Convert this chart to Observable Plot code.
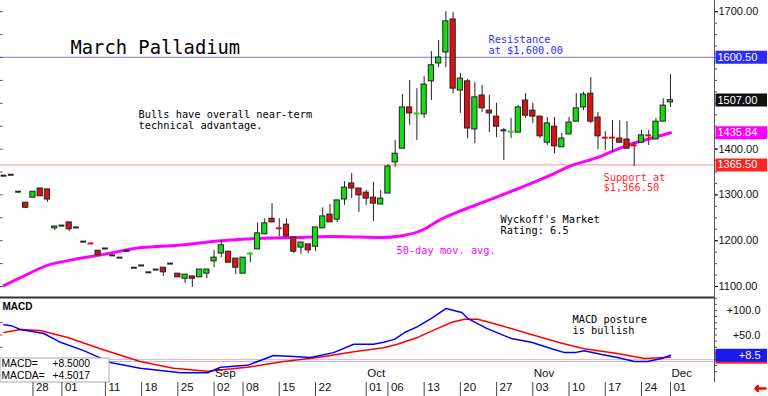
<!DOCTYPE html>
<html><head><meta charset="utf-8">
<script src="https://cdn.jsdelivr.net/npm/d3@7"></script>
<script src="https://cdn.jsdelivr.net/npm/@observablehq/plot@0.6"></script>
<style>
body{margin:0;background:#fff;}
#wrap{position:relative;width:768px;height:396px;overflow:hidden;background:#fff;}
#top{position:absolute;left:0;top:0;}
#bot{position:absolute;left:0;top:296px;}
g[aria-label="axlab"] text{letter-spacing:1.4px;}
g[aria-label="boxnum"] text{letter-spacing:1.6px;}
</style></head><body><div id="wrap"><div id="top"></div><div id="bot"></div></div>
<script>
// ---------- data ----------
const dates = [
"2025-07-22","2025-07-23","2025-07-24","2025-07-25","2025-07-28","2025-07-29","2025-07-30","2025-07-31",
"2025-08-01","2025-08-04","2025-08-05","2025-08-06","2025-08-07","2025-08-08","2025-08-11","2025-08-12",
"2025-08-13","2025-08-14","2025-08-15","2025-08-18","2025-08-19","2025-08-20","2025-08-21","2025-08-22",
"2025-08-25","2025-08-26","2025-08-27","2025-08-28","2025-08-29","2025-09-02","2025-09-03","2025-09-04",
"2025-09-05","2025-09-08","2025-09-09","2025-09-10","2025-09-11","2025-09-12","2025-09-15","2025-09-16",
"2025-09-17","2025-09-18","2025-09-19","2025-09-22","2025-09-23","2025-09-24","2025-09-25","2025-09-26",
"2025-09-29","2025-09-30","2025-10-01","2025-10-02","2025-10-03","2025-10-06","2025-10-07","2025-10-08",
"2025-10-09","2025-10-10","2025-10-13","2025-10-14","2025-10-15","2025-10-16","2025-10-17","2025-10-20",
"2025-10-21","2025-10-22","2025-10-23","2025-10-24","2025-10-27","2025-10-28","2025-10-29","2025-10-30",
"2025-10-31","2025-11-03","2025-11-04","2025-11-05","2025-11-06","2025-11-07","2025-11-10","2025-11-11",
"2025-11-12","2025-11-13","2025-11-14","2025-11-17","2025-11-18","2025-11-19","2025-11-20","2025-11-21",
"2025-11-24","2025-11-25","2025-11-26","2025-11-28","2025-12-01"];
const open = [1342,1344,1307,1283,1294,1314,1312,1227,1233,1240,1229,1198,1195,1178,1183,1168,1163,1178,1141,1146,
1131,1137,1141,1150,1128,1117,1122,1120,1128,1155,1172,1176,1161,1128,1171,1181,1214,1248,1228,1235,
1207,1185,1192,1187,1227,1257,1246,1290,1325,1314,1305,1294,1279,1303,1371,1401,1491,1477,1476,1548,
1587,1611,1683,1528,1548,1443,1517,1484,1471,1441,1437,1436,1506,1484,1471,1414,1449,1404,1432,1460,
1491,1521,1469,1426,1426,1423,1421,1409,1414,1431,1421,1460,1502];
const high = [1342,1344,1307,1283,1307,1314,1312,1231,1233,1240,1229,1198,1195,1178,1183,1168,1163,1178,1141,1146,
1131,1137,1141,1150,1128,1126,1122,1137,1137,1179,1200,1176,1161,1163,1174,1238,1248,1281,1248,1248,
1207,1196,1192,1229,1272,1279,1288,1329,1347,1314,1310,1327,1310,1366,1419,1519,1550,1532,1559,1613,
1637,1700,1698,1565,1552,1545,1539,1517,1500,1445,1467,1495,1521,1500,1471,1469,1469,1434,1469,1521,
1524,1556,1480,1438,1462,1462,1460,1414,1441,1441,1467,1510,1563];
const low = [1342,1344,1307,1270,1294,1297,1284,1222,1233,1220,1229,1198,1194,1168,1183,1168,1163,1178,1141,1146,
1131,1137,1122,1150,1120,1107,1098,1120,1117,1141,1163,1152,1126,1128,1152,1181,1214,1240,1209,1209,
1172,1170,1172,1176,1227,1240,1240,1277,1292,1262,1277,1242,1279,1303,1360,1401,1452,1419,1467,1506,
1578,1578,1521,1478,1423,1412,1480,1436,1425,1375,1423,1436,1467,1456,1423,1408,1390,1404,1432,1460,
1484,1456,1399,1397,1393,1412,1399,1362,1412,1408,1421,1460,1491];
const close = [1342,1344,1307,1272,1307,1297,1290,1231,1233,1225,1229,1198,1194,1168,1183,1168,1163,1178,1141,1146,
1131,1137,1131,1150,1120,1126,1117,1137,1137,1163,1190,1152,1141,1163,1172,1216,1238,1240,1227,1209,
1176,1196,1179,1229,1253,1240,1288,1316,1314,1299,1292,1281,1292,1362,1390,1491,1478,1478,1541,1583,
1600,1679,1532,1554,1445,1513,1489,1478,1449,1441,1438,1491,1473,1471,1428,1456,1406,1423,1458,1489,
1519,1460,1428,1425,1425,1414,1401,1408,1430,1430,1460,1495,1507];

// 50-day moving average, read at trading-day positions
const maIdx = [0,3,6,9,13,19,24,30,35,40,45,49,52,55,58,60,63,66,71,75,78,82,86,89,92];
const maVal = [1102,1125,1146,1157,1168,1185,1190,1200,1205,1207,1209,1208,1207,1211,1225,1244,1265,1283,1314,1340,1362,1382,1408,1422,1435.84];

// MACD (blue) and MACDA signal (red), read at trading-day positions
const macdIdx = [0,1,2.3,5.5,7.8,11,14.7,18.8,24.4,28.1,29.9,33.6,37.2,40,42.3,45.5,48.3,51,52.4,53.9,55.3,57.1,59,61,63.2,64,66.7,70,72.8,75.6,77.4,78.8,80.1,82.5,84.7,87,88.8,90.8,92];
const macdVal = [71,69,61,53,35,18,-6,-18,-27,-27,-16,-12,8,6,4,14,31,31,35,41,55,67,84,104,96,84,63,43,35,22,14,14,18,10,4,-4,-4,2,8.5];
const sigIdx = [0,2.3,5,8.8,13.3,18.8,23.4,28.1,33.6,38.6,43.3,48.3,52.4,54.3,57.1,59.8,61.8,63.6,65.4,68.7,72.3,77,80.1,84.7,88.4,92];
const sigVal = [55,61,59,45,22,-4,-18,-24,-16,-4,4,16,24,31,45,63,76,82,82,69,53,33,22,12,2,4.5017];

const dayTickDates = ["2025-07-28","2025-08-01","2025-08-11","2025-08-18","2025-08-25","2025-09-02","2025-09-08","2025-09-15","2025-09-22","2025-10-01","2025-10-06","2025-10-13","2025-10-20","2025-10-27","2025-11-03","2025-11-10","2025-11-17","2025-11-24","2025-12-01"];
const dayTickLabels = ["28","01","11","18","25","02","08","15","22","01","06","13","20","27","03","10","17","24","01"];
const monthDates = ["2025-09-02","2025-10-01","2025-11-03","2025-12-01"];
const monthLabels = ["Sep","Oct","Nov","Dec"];

const priceTicks = [1100,1200,1300,1400,1700];
const resistance = 1600.5, support = 1365.5, lastClose = 1507, maLast = 1435.84;
const macdNow = 8.5, macdaNow = 4.5017;
const macdTicks = [50,100];

// ---------- build ----------
const X_DOMAIN = [-0.48, 98.08];
const XPP = 714 / (X_DOMAIN[1] - X_DOMAIN[0]);
const pxToX = px => X_DOMAIN[0] + px / XPP;
const PRICE_DOMAIN = [1076, 1724.5];
const MACD_DOMAIN = [-47, 126.5];
const GREEN = "#11dd11", RED = "#dd1111", INK = "#222";
const MONO = "DejaVu Sans Mono, monospace";
const SANS = "Liberation Sans, Arial, sans-serif";

const candles = dates.map((d, i) => ({i, o: open[i], h: high[i], l: low[i], c: close[i]}));
const col = d => d.c > d.o ? GREEN : d.c < d.o ? RED : INK;
const isBody = d => Math.abs(d.c - d.o) >= 3;
const ma = maIdx.map((x, k) => ({x, v: maVal[k]}));
const macd = macdIdx.map((x, k) => ({x, v: macdVal[k]}));
const sig = sigIdx.map((x, k) => ({x, v: sigVal[k]}));
const dayTicks = dayTickDates.map((d, k) => ({x: dates.indexOf(d), label: dayTickLabels[k]}));
const months = monthDates.map((d, k) => ({x: dates.indexOf(d), label: monthLabels[k]}));

const hlPrice = [
  {v: resistance, label: resistance.toFixed(2), bg: "#2a2aff"},
  {v: lastClose, label: lastClose.toFixed(2), bg: "#111111"},
  {v: maLast, label: maLast.toFixed(2), bg: "#ff00ff"},
  {v: support, label: support.toFixed(2), bg: "#ff2424"}
];

const notes = [
  {t: "March Palladium", x: 70, y: 47, size: 18.8, color: "#000"},
  {t: "Bulls have overall near-term", x: 138, y: 114, size: 10.3, color: "#000"},
  {t: "technical advantage.", x: 138, y: 125, size: 10.3, color: "#000"},
  {t: "Resistance", x: 488, y: 39.5, size: 10.3, color: "#2f2fff"},
  {t: "at $1,600.00", x: 488, y: 50.5, size: 10.3, color: "#2f2fff"},
  {t: "Support at", x: 603, y: 177, size: 10.3, color: "#ff2a2a"},
  {t: "$1,366.50", x: 603, y: 187.5, size: 10.3, color: "#ff2a2a"},
  {t: "Wyckoff's Market", x: 500, y: 219, size: 10.3, color: "#000"},
  {t: "Rating: 6.5", x: 500, y: 230, size: 10.3, color: "#000"},
  {t: "50-day mov. avg.", x: 396, y: 250, size: 10.3, color: "#ff00ff"}
];
const noteMarks = ns => ns.map(n => Plot.text([n.t], {frameAnchor: "top-left", dx: n.x, dy: n.y, textAnchor: "start", lineAnchor: "middle", fontSize: n.size, fill: n.color, fontFamily: n.font || MONO, fontWeight: n.weight || "normal", ariaLabel: n.aria || "note"}));

const topPlot = Plot.plot({
  width: 768, height: 297,
  marginLeft: 0, marginRight: 54, marginTop: 0, marginBottom: 0,
  x: {domain: X_DOMAIN, axis: null},
  y: {domain: PRICE_DOMAIN, axis: null},
  style: {fontFamily: SANS, background: "#fff", overflow: "visible"},
  marks: [
    Plot.ruleY([resistance], {stroke: "#7474ff"}),
    Plot.ruleY([support], {stroke: "#ff8c8c"}),
    Plot.line(ma, {x: "x", y: "v", stroke: "#ff00ff", strokeWidth: 3, curve: "monotone-x"}),
    Plot.ruleX(candles.filter(d => d.h > d.l), {x: "i", y1: "l", y2: "h", stroke: INK, strokeWidth: 1}),
    Plot.rect(candles.filter(isBody), {x1: d => d.i - 0.36, x2: d => d.i + 0.36, y1: "o", y2: "c", fill: col, stroke: INK, strokeWidth: 1}),
    Plot.ruleY(candles.filter(d => !isBody(d)), {x1: d => d.i - 0.4, x2: d => d.i + 0.4, y: "c", stroke: col, strokeWidth: 2}),
    // left small ticks
    Plot.ruleY(d3.range(1100, 1701, 50), {x1: X_DOMAIN[0], x2: pxToX(2.5), stroke: "#555"}),
    // right axis
    Plot.ruleX([X_DOMAIN[1]], {stroke: "#555"}),
    Plot.axisY({anchor: "right", ticks: d3.range(1100, 1725, 25), tickSize: 2, tickFormat: () => "", label: null, stroke: "#555"}),
    Plot.axisY({anchor: "right", ticks: priceTicks, tickSize: 3, tickPadding: 1, tickFormat: d => d.toFixed(2), label: null, fontSize: 11, fill: "#111", ariaLabel: "axlab"}),
    Plot.ruleY(hlPrice, {y: "v", x1: pxToX(715.5), x2: pxToX(767), stroke: "bg", strokeWidth: 13}),
    Plot.text(hlPrice, {y: "v", text: "label", frameAnchor: "right", dx: 3, textAnchor: "start", fill: "#fff", fontSize: 11, ariaLabel: "axlab"}),
    ...noteMarks(notes)
  ]
});
document.getElementById("top").append(topPlot);

const MPPU = 85 / (MACD_DOMAIN[1] - MACD_DOMAIN[0]);
const pyToM = py => MACD_DOMAIN[1] - (py - 1) / MPPU; // py in bottom-svg pixels
const hlMacd = [
  {v: macdaNow, label: "", bg: "#ff2424"},
  {v: macdNow, label: "+" + macdNow.toFixed(1), bg: "#1a1aee"}
];
const botNotes = [
  {t: "MACD", x: 2, y: 9.5, size: 10, color: "#000", font: SANS, weight: "bold"},
  {t: "MACD posture", x: 572, y: 22, size: 10.3, color: "#000"},
  {t: "is bullish", x: 572, y: 33, size: 10.3, color: "#000"},
  {t: "MACD=", x: 1, y: 66.5, size: 10.3, color: "#000", font: SANS},
  {t: "MACDA=", x: 1, y: 78, size: 10.3, color: "#000", font: SANS},
  {t: "+" + macdNow.toFixed(4), x: 52, y: 66.5, size: 10.3, color: "#000", font: SANS, aria: "boxnum"},
  {t: "+" + macdaNow.toFixed(4), x: 52, y: 78, size: 10.3, color: "#000", font: SANS, aria: "boxnum"}
];

const botPlot = Plot.plot({
  width: 768, height: 100,
  marginLeft: 0, marginRight: 54, marginTop: 1, marginBottom: 14,
  x: {domain: X_DOMAIN, axis: null},
  y: {domain: MACD_DOMAIN, axis: null},
  style: {fontFamily: SANS, background: "transparent", overflow: "visible"},
  marks: [
    Plot.ruleY([0], {stroke: "#ffb0b0"}),
    Plot.ruleY([-4], {stroke: "#b0b0ff"}),
    Plot.line(sig, {x: "x", y: "v", stroke: "#ff0000", strokeWidth: 1.5}),
    Plot.line(macd, {x: "x", y: "v", stroke: "#0000ff", strokeWidth: 1.5}),
    Plot.ruleY([MACD_DOMAIN[1]], {stroke: "#333", strokeWidth: 2}),
    Plot.ruleY([25, 50, 75], {x1: X_DOMAIN[0], x2: pxToX(2.5), stroke: "#555"}),
    // value box
    Plot.rect([0], {x1: X_DOMAIN[0], x2: pxToX(109), y1: MACD_DOMAIN[0], y2: pyToM(62), fill: "#fff", stroke: "#aaa"}),
    // right axis
    Plot.ruleX([X_DOMAIN[1]], {stroke: "#555"}),
    Plot.axisY({anchor: "right", ticks: d3.range(-25, 126, 12.5), tickSize: 2, tickFormat: () => "", label: null, stroke: "#555"}),
    Plot.text(macdTicks, {y: d => d, text: d => "+" + d.toFixed(1), frameAnchor: "right", dx: 46, textAnchor: "end", fontSize: 11, fill: "#111", ariaLabel: "axlab"}),
    Plot.ruleY(hlMacd, {y: "v", x1: pxToX(715.5), x2: pxToX(767), stroke: "bg", strokeWidth: 13}),
    Plot.text(hlMacd.filter(d => d.label), {y: "v", text: "label", frameAnchor: "right", dx: 46, textAnchor: "end", fill: "#fff", fontSize: 11, ariaLabel: "axlab"}),
    // date axis
    Plot.axisX({anchor: "bottom", ticks: dayTicks.map(d => d.x), tickSize: 14, tickFormat: () => "", label: null, stroke: "#444"}),
    Plot.text(dayTicks, {x: "x", text: "label", frameAnchor: "bottom", dy: 8, dx: 3, textAnchor: "start", fontSize: 11.5, fill: "#111"}),
    Plot.text(months, {x: "x", text: "label", frameAnchor: "bottom", dy: -6, dx: 1, textAnchor: "start", fontSize: 11.5, fill: "#111"}),
    Plot.arrow([0], {x1: pxToX(765), x2: pxToX(755), y1: pyToM(92), y2: pyToM(92), stroke: "#ee0000", strokeWidth: 2.5, headLength: 6, headAngle: 90}),
    ...noteMarks(botNotes)
  ]
});
document.getElementById("bot").append(botPlot);
</script></body></html>
